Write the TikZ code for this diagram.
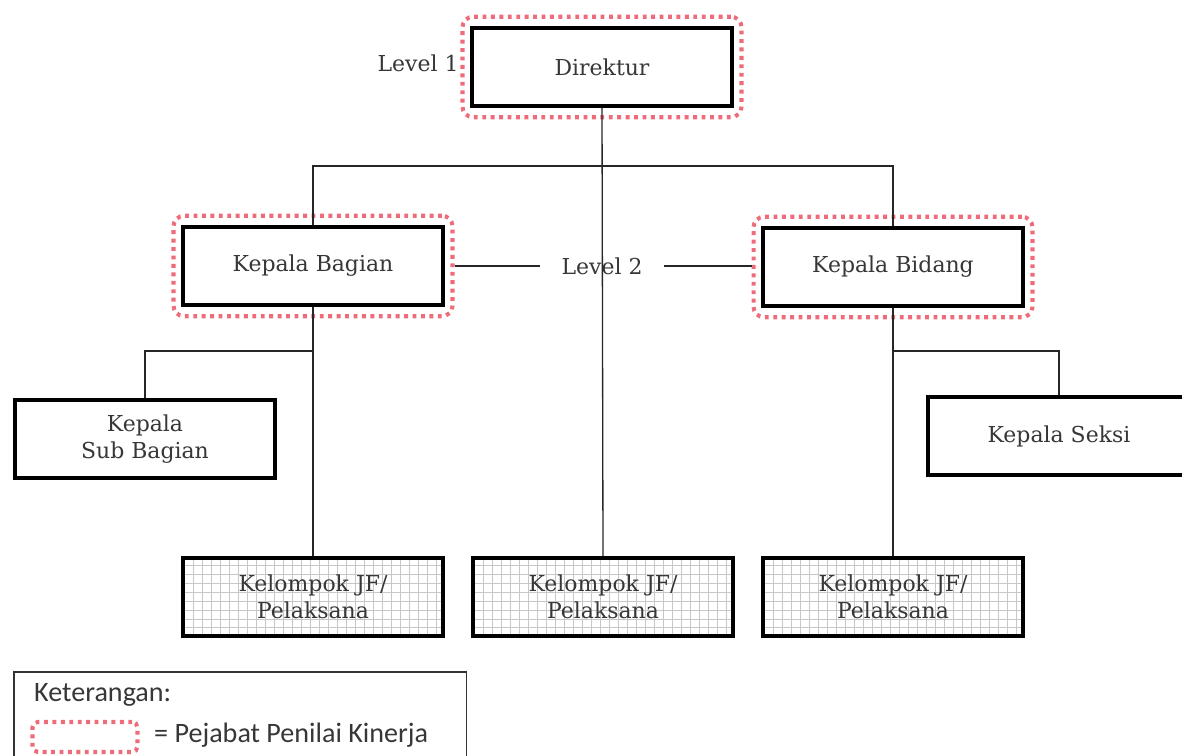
\documentclass[tikz,border=0pt]{standalone}
\usepackage{fontspec}
\setmainfont{DejaVu Serif}
\newfontfamily\ketfont{Carlito}
\usetikzlibrary{positioning,fit}
\definecolor{pjbred}{RGB}{238,108,122}
\definecolor{unittext}{RGB}{55,55,55}
\tikzstyle{unit} = [draw, line width=2.3pt, fill=white, minimum width=5.2cm, minimum height=1.55cm, align=center, text=unittext, font=\fontsize{12.5}{15.5}\selectfont]
\tikzstyle{jf} = [unit, path picture={\draw[black!22, line width=0.35pt, step=0.18cm] (path picture bounding box.south west) grid (path picture bounding box.north east);}]
\tikzstyle{pjb} = [draw=pjbred, line width=2.3pt, dash pattern=on 2.2pt off 2.6pt, rounded corners=6pt, inner xsep=0.15cm, inner ysep=0.19cm]
\tikzstyle{link} = [draw, line width=0.75pt, black!85]
\tikzstyle{lvl} = [text=unittext, font=\fontsize{12.5}{15}\selectfont]

\begin{document}
\begin{tikzpicture}[x=0.02cm,y=-0.02cm]
\useasboundingbox (0,0) rectangle (1182,756);
\clip (0,0) rectangle (1182,756);
% boxes
\node [unit] (dir) at (602,67) {Direktur};
\node [unit] (kbag) at (313,266) {Kepala Bagian};
\node [unit] (kbid) at (893,267) {Kepala Bidang};
\node [unit] (ksub) at (145,439) {Kepala\\Sub Bagian};
\node [unit, minimum width=5.24cm] (kses) at (1059,436) {Kepala Seksi};
\node [jf] (jf1) at (313,597) {Kelompok JF/\\Pelaksana};
\node [jf] (jf2) at (603,597) {Kelompok JF/\\Pelaksana};
\node [jf] (jf3) at (893,597) {Kelompok JF/\\Pelaksana};
% pejabat penilai kinerja
\node [pjb, fit=(dir)] (dirp) {};
\node [pjb, fit=(kbag)] (kbagp) {};
\node [pjb, fit=(kbid)] (kbidp) {};
% levels
\node [lvl, left=0.02cm of dirp.west, yshift=2pt, xshift=3pt] (lv1) {Level 1};
\node [lvl, inner xsep=0.42cm] (lv2) at (602,266) {Level 2};
% lines
\coordinate (hub) at (602,166);
\coordinate (fbag) at (313,351);
\coordinate (fbid) at (893,351);
\draw[link] (dir.south) -- (jf2.north);
\draw[link] (kbag.north) |- (hub) -| (kbid.north);
\draw[link] (kbagp.east) -- (lv2.west);
\draw[link] (lv2.east) -- (lv2.east -| kbidp.west);
\draw[link] (kbag.south) -- (jf1.north);
\draw[link] (kbid.south) -- (jf3.north);
\draw[link] (ksub.north) |- (fbag);
\draw[link] (kses.north) |- (fbid);
% keterangan
\node [draw, line width=0.9pt, black!80, minimum width=9.06cm, minimum height=2cm, anchor=north west] (ket) at (13,671) {};
\node [anchor=west, text=unittext, font=\ketfont\fontsize{16}{18}\selectfont] (kett) at (28,695) {Keterangan:};
\node [pjb, rounded corners=3pt, minimum width=2.1cm, minimum height=0.6cm, inner sep=0pt] (ketp) at (85,737) {};
\node [anchor=west, text=unittext, font=\ketfont\fontsize{16}{18}\selectfont] (ketl) at (148,735) {= Pejabat Penilai Kinerja};
\end{tikzpicture}
\end{document}
